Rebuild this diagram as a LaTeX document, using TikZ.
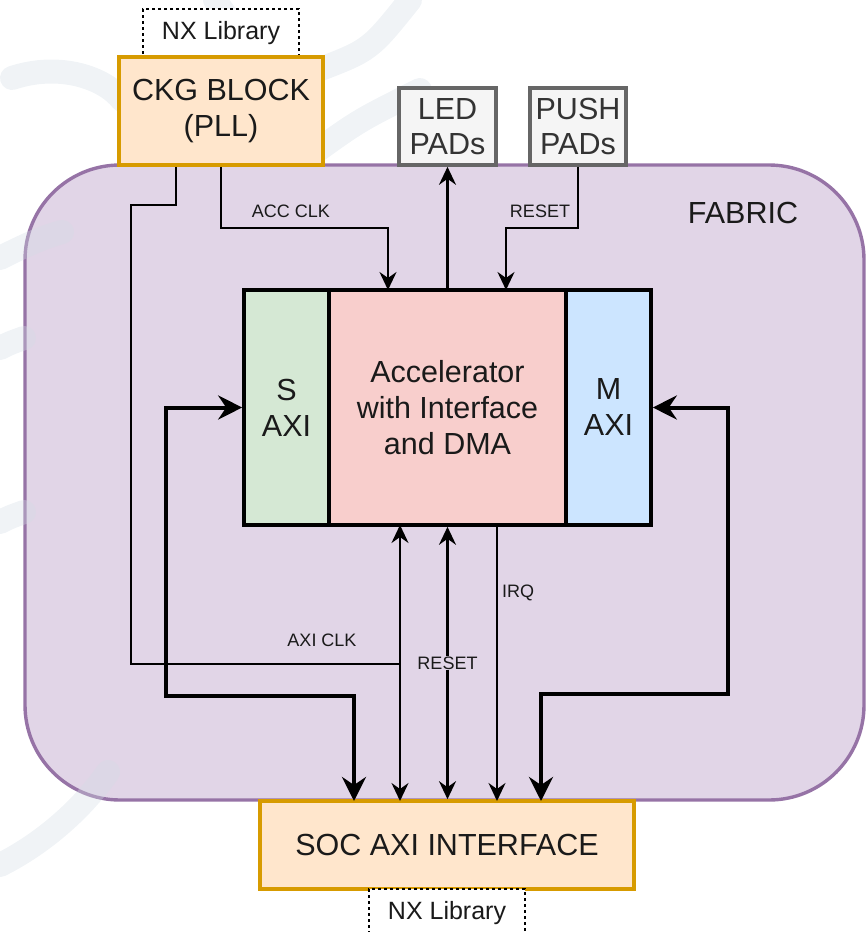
\documentclass[tikz,border=0pt]{standalone}
\usepackage{fontspec}
\setmainfont{Liberation Sans}
\usetikzlibrary{arrows.meta,calc}
\definecolor{fabfill}{HTML}{E1D5E7}
\definecolor{fabline}{HTML}{9673A6}
\definecolor{orfill}{HTML}{FFE6CC}
\definecolor{orline}{HTML}{D79B00}
\definecolor{padfill}{HTML}{F5F5F5}
\definecolor{padline}{HTML}{666666}
\definecolor{padtext}{HTML}{333333}
\definecolor{sfill}{HTML}{D5E8D4}
\definecolor{afill}{HTML}{F8CECC}
\definecolor{mfill}{HTML}{CCE5FF}
\definecolor{wm}{HTML}{D3DDE5}
\definecolor{txt}{HTML}{1A1A1A}
\begin{document}
\begin{tikzpicture}[x=1pt,y=-1pt,
  bigtext/.style={font=\fontsize{30.5}{36}\selectfont, align=center, text=txt},
  orbox/.style={bigtext, draw=orline, fill=orfill, line width=3.6pt, inner sep=0pt},
  padbox/.style={font=\fontsize{30.5}{35}\selectfont, align=center, text=padtext, draw=padline, fill=padfill, line width=3.6pt, inner sep=0pt, minimum height=77pt},
  blockbox/.style={bigtext, draw=black, line width=3.6pt, inner sep=0pt, minimum height=235pt},
  libbox/.style={font=\fontsize{25}{30}\selectfont, text=txt, draw=black, dashed, line width=1.4pt, fill=white, minimum width=156pt, minimum height=48pt, inner sep=0pt},
  small/.style={font=\fontsize{18}{22}\selectfont, text=txt, inner sep=1pt},
  thinarr/.style={line width=2.3pt, -{Stealth[length=18pt,width=17pt,inset=6pt]}},
  thinboth/.style={line width=2.3pt, {Stealth[length=18pt,width=17pt,inset=6pt]}-{Stealth[length=18pt,width=17pt,inset=6pt]}},
  thinline/.style={line width=2.3pt},
  thickboth/.style={line width=4pt, {Stealth[length=24pt,width=24pt,inset=8pt]}-{Stealth[length=24pt,width=24pt,inset=8pt]}},
  wmband/.style={wm, line width=24pt, line cap=round, opacity=0.35}
]
\useasboundingbox (0,0) rectangle (866,932);
\clip (0,0) rectangle (866,932);

% fabric container
\node[draw=fabline, fill=fabfill, line width=3.4pt, rounded corners=95pt,
      minimum width=839pt, minimum height=635pt, inner sep=0pt] (fabric) at (444.5,482.5) {};
\node[bigtext] (fablabel) at (743,213) {FABRIC};

% faint watermark
\draw[wmband] (12,78) .. controls (60,62) and (105,78) .. (122,100);
\draw[wmband] (0,258) .. controls (20,248) and (40,238) .. (62,232);
\draw[wmband] (0,348) .. controls (10,343) .. (24,338);
\draw[wmband] (0,522) .. controls (10,517) .. (24,512);
\draw[wmband] (0,865) .. controls (40,845) and (80,812) .. (108,772);
\draw[wmband] (410,0) .. controls (370,50) .. (318,70);
\draw[wmband] (318,150) .. controls (360,120) .. (420,90);
\draw[wmband] (215,0) .. controls (232,25) .. (250,50);

% boxes
\node[libbox] (nxtop) at (221,33) {NX Library};
\node[orbox, minimum width=204pt, minimum height=108pt] (ckg) at (221,111) {CKG BLOCK\\(PLL)};
\node[padbox, minimum width=97pt] (led) at (447.5,126.5) {LED\\PADs};
\node[padbox, minimum width=96pt] (push) at (578,126.5) {PUSH\\PADs};

\node[blockbox, fill=sfill, minimum width=85pt] (saxi) at (286.5,407.5) {S\\AXI};
\node[blockbox, fill=mfill, minimum width=85pt] (maxi) at (608.5,407.5) {M\\AXI};
\node[blockbox, fill=afill, minimum width=237pt] (acc) at (447.5,407.5) {Accelerator\\with Interface\\and DMA};

\node[orbox, minimum width=374pt, minimum height=88pt] (soc) at (447,845) {SOC AXI INTERFACE};
\node[libbox] (nxbot) at (447,913) {NX Library};

% anchor coordinates
\coordinate (accclkin) at (388,290);
\coordinate (resetin) at (506,290);
\coordinate (bidir1top) at (400,525);
\coordinate (bidir1bot) at (400,801);
\coordinate (irqtop) at (497,525);
\coordinate (irqbot) at (497,801);
\coordinate (saxibot) at (354,801);
\coordinate (maxibot) at (541,801);
\coordinate (axiclkjoin) at (400,664);

% top connectors
\draw[thinarr] (ckg.south) |- (388,228) -- (accclkin);
\node[small] (acclbl) at (291,211) {ACC CLK};
\draw[thinarr] (acc.north) -- (led.south);
\draw[thinarr] (push.south) |- (506,228) -- (resetin);
\node[small] (rstlbl) at (540,211) {RESET};

% AXI CLK
\draw[thinline] ($(ckg.south)+(-45,0)$) |- (131,205) |- (axiclkjoin);
\node[small] (axiclklbl) at (322,640) {AXI CLK};

% bottom connectors
\draw[thinboth] (bidir1top) -- (bidir1bot);
\draw[thinboth] (acc.south) -- (acc.south |- soc.north);
\node[small, fill=fabfill] (rst2lbl) at (447.5,663) {RESET};
\draw[thinarr] (irqtop) -- (irqbot);
\node[small] (irqlbl) at (518,593) {IRQ};

\draw[thickboth] (saxi.west) -| (166,696) -| (saxibot);
\draw[thickboth] (maxi.east) -| (728,694) -| (maxibot);
\end{tikzpicture}
\end{document}
